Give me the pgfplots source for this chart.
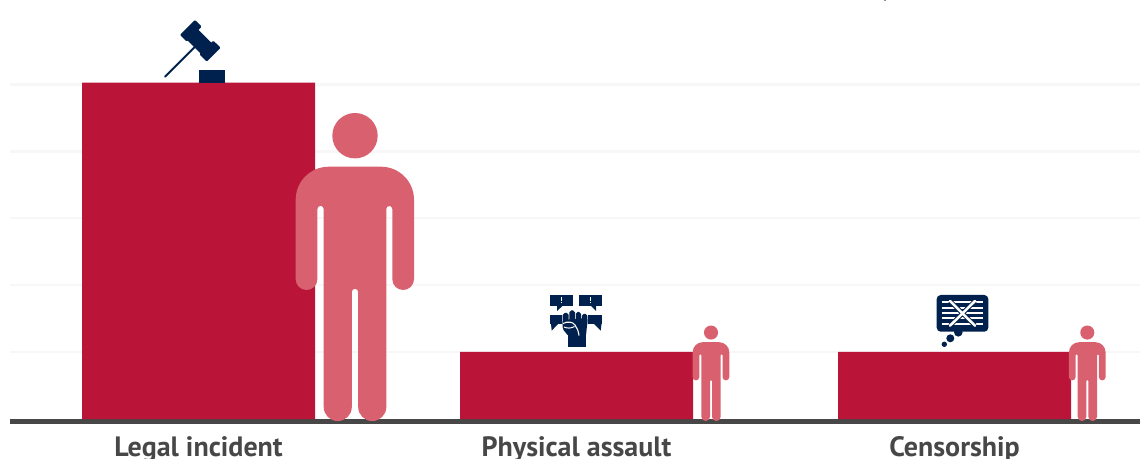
\documentclass[border=0pt]{standalone}
\usepackage{pgfplots}
\pgfplotsset{compat=1.18}
\usepackage{fontspec}
\setmainfont{PT Sans}
\definecolor{barred}{HTML}{BA1539}
\definecolor{pers}{HTML}{D8606F}
\definecolor{navy}{HTML}{00214D}
\definecolor{axisgrey}{HTML}{474747}
\definecolor{gridgrey}{HTML}{F7F7F7}
\pgfplotstableread{
x value
0 5
1 1
2 1
}\incidents
\newcommand{\person}[2]{%
  \begin{scope}[x=1pt,y=1pt,shift={(#1,37)},scale=#2]
    \fill[pers] (0,285.3) circle[radius=22.7];
    \fill[pers] (-26.3,254.3) -- (26,254.3) arc[start angle=90,end angle=0,radius=33]
      -- (59,141.85) arc[start angle=0,end angle=-180,radius=10.85]
      -- (37.3,212) arc[start angle=0,end angle=180,radius=3]
      -- (31.3,14) arc[start angle=0,end angle=-180,radius=14.05]
      -- (3.2,129) arc[start angle=0,end angle=180,radius=3.2]
      -- (-3.2,14) arc[start angle=0,end angle=-180,radius=14.05]
      -- (-31.3,212) arc[start angle=0,end angle=180,radius=3.15]
      -- (-37.6,141.85) arc[start angle=0,end angle=-180,radius=10.85]
      -- (-59.3,221.3) arc[start angle=180,end angle=90,radius=33] -- cycle;
  \end{scope}}
\begin{document}
\begin{tikzpicture}[x=1pt,y=1pt]
\clip (0,0) rectangle (1140,458);
\begin{axis}[
  at={(10pt,36.5pt)}, anchor=south west,
  scale only axis, width=1130pt, height=421.5pt,
  xmin=-0.4987, xmax=2.4907, ymin=-0.034, ymax=6.229,
  ybar, bar width=233pt,
  axis x line*=bottom, axis y line*=left,
  x axis line style={draw=axisgrey,line width=5pt,-},
  y axis line style={draw=none},
  xtick={0,1,2}, xticklabels={Legal incident,Physical assault,Censorship},
  ytick={0.9985,1.993,2.987,3.981,4.973}, yticklabels={},
  major tick length=0pt,
  ymajorgrids, grid style={draw=gridgrey,line width=2.5pt},
  xticklabel style={font=\fontsize{28}{32}\selectfont\bfseries,text=axisgrey,anchor=base,yshift=-35pt},
]
\addplot[ybar,fill=barred,draw=none] table[x=x,y=value] {\incidents};
\end{axis}
\person{355}{1}
\person{711}{0.31}
\person{1087.3}{0.31}
\begin{scope}[shift={(0,458)},yscale=-1]
 % top cut-off fragment
 \fill[navy!50] (883.5,0) rectangle (886,1.3);
 % gavel
 \fill[navy,rounded corners=1pt] (195,20) -- (201.7,26.7) -- (186.7,41.7) -- (180,35) -- cycle;
 \fill[navy,rounded corners=1pt] (213.3,40.7) -- (220.7,47.7) -- (206.7,61.7) -- (199.3,54.3) -- cycle;
 \fill[navy] (198,29.5) -- (212,43.5) -- (201,54) -- (187.5,40.5) -- cycle;
 \draw[navy,line width=2pt,line cap=round] (165,76.7) -- (195,46.7);
 \fill[navy] (198.7,70.3) rectangle (225.3,82.7);
 % fist and speech bubbles
 \fill[navy] (550,295) rectangle (573.3,305.7);
 \fill[navy] (557,305) -- (557,311) -- (563.5,305) -- cycle;
 \fill[navy] (579,295) rectangle (602.3,305.7);
 \fill[navy] (590,305) -- (596,311) -- (596,305) -- cycle;
 \fill[white] (561,297.2) rectangle (562.4,300.7);
 \fill[white] (561,301.8) rectangle (562.4,303.4);
 \fill[white] (590,297.2) rectangle (591.4,300.7);
 \fill[white] (590,301.8) rectangle (591.4,303.4);
 \fill[navy] (550,315) rectangle (561.8,324.5);
 \fill[navy] (551,324) -- (551.7,330.7) -- (558,324) -- cycle;
 \fill[navy] (588.3,315) rectangle (602.3,324.5);
 \fill[navy] (594,324) -- (600.7,330.7) -- (601.5,324) -- cycle;
 \fill[navy] (568.3,335) rectangle (586,347.3);
 \fill[navy,rounded corners=1.5pt] (562.7,320) -- (562.7,329) -- (568.3,336) -- (586,336) -- (587.3,322) -- (587.3,318) -- cycle;
 \fill[navy,rounded corners=1.8pt] (562.7,313) rectangle (568.6,326);
 \fill[navy,rounded corners=1.8pt] (569.4,310.5) rectangle (575,326);
 \fill[navy,rounded corners=1.8pt] (575.8,312) rectangle (581,326);
 \fill[navy,rounded corners=1.8pt] (581.8,314) rectangle (587.3,326);
 \draw[white,line width=1.1pt] (563,323.5) .. controls (568,321) and (573,322) .. (575,325) .. controls (577,328) and (578.5,331) .. (579,335.5);
 \draw[white,line width=1pt] (564,327) .. controls (567,328.5) and (571,328.5) .. (574.5,326.5);
 % thought bubble
 \fill[navy] (958.3,332.3) circle[radius=4.3];
 \fill[navy] (950.3,338.3) circle[radius=4];
 \fill[navy] (944.3,344.3) circle[radius=2.7];
 \fill[navy,rounded corners=4pt] (936.7,295) rectangle (988.3,331.7);
 \foreach \yy in {302.3,307.7,313.3,318.3,324.3}
   \draw[white,line width=1.7pt] (941.7,\yy) -- (983.3,\yy);
 \draw[navy,line width=4.5pt] (950,301) -- (975,325.7) (975,301) -- (950,325.7);
 \draw[white,line width=2.5pt,line cap=round] (950,301) -- (975,325.7) (975,301) -- (950,325.7);
\end{scope}
\end{tikzpicture}
\end{document}
